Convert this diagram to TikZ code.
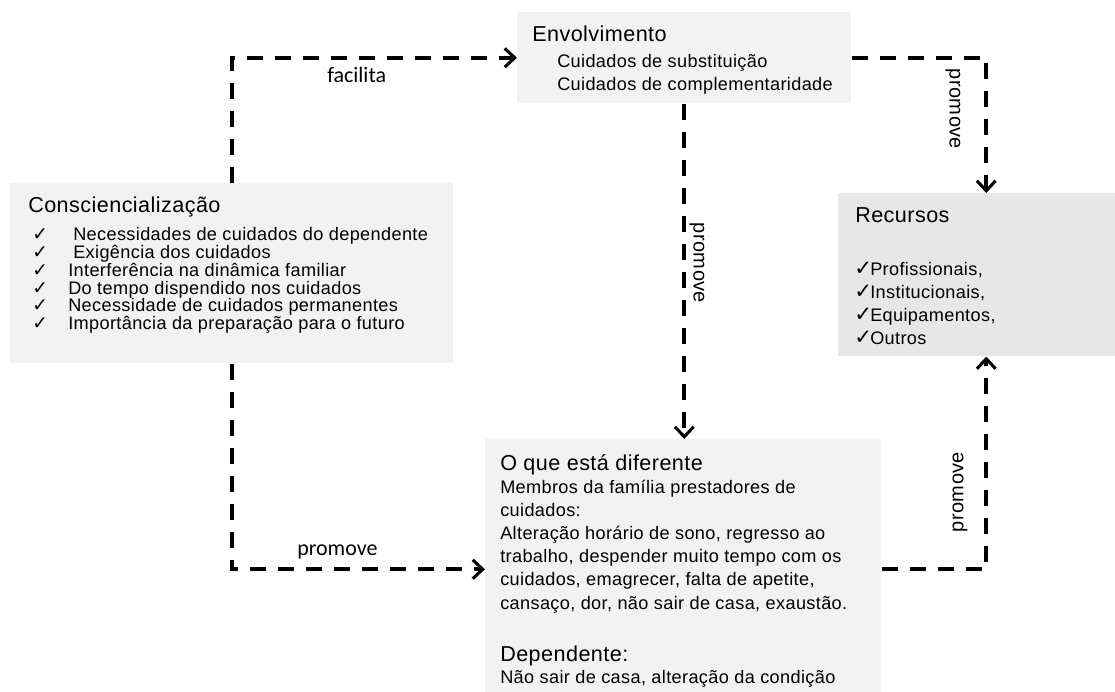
\documentclass[tikz,border=0pt]{standalone}
\usepackage{fontspec}
\setmainfont{Liberation Sans}[LetterSpace=2]
\newfontfamily\calib{Carlito}
\newfontfamily\dejav{DejaVu Sans}
\usetikzlibrary{arrows.meta}
\definecolor{boxa}{HTML}{F2F2F2}
\definecolor{boxb}{HTML}{E7E7E7}
\begin{document}
\begin{tikzpicture}[x=0.75pt,y=-0.75pt,
 box/.style={fill=#1, draw=none, inner sep=0, anchor=north west},
 ttl/.style={inner sep=0, anchor=base west, font=\fontsize{16.2}{19}\selectfont},
 bdy/.style={inner sep=0, anchor=base west, font=\fontsize{13.6}{15}\selectfont},
 chk/.style={inner sep=0, anchor=base west, font=\dejav\fontsize{14}{15}\selectfont},
 chkb/.style={inner sep=0, anchor=base west, font=\dejav\fontsize{16}{17}\selectfont},
 lbl/.style={inner sep=0, anchor=base west, font=\calib\fontsize{16.5}{20}\selectfont},
 rlbl/.style={inner sep=0, font=\fontsize{15}{17}\selectfont},
 link/.style={line width=3pt, dash pattern=on 12pt off 9pt,
   -{Straight Barb[length=7.5pt,width=14pt,line width=2.3pt]}}
]
\useasboundingbox (0,0) rectangle (1115,692);
% boxes
\node[box=boxa, minimum width=332.25pt, minimum height=135pt] (consc) at (10,183) {};
\node[box=boxa, minimum width=250.5pt, minimum height=68.25pt] (env) at (517,12) {};
\node[box=boxb, minimum width=222pt, minimum height=122.25pt] (rec) at (838,193) {};
\node[box=boxa, minimum width=297pt, minimum height=195pt] (oque) at (485,439) {};
% Consciencialização
\node[ttl] (ctitle) at (28,212) {Consciencialização};
\foreach \i/\yy/\xx/\t in {1/240/73/{Necessidades de cuidados do dependente},
  2/258/73/{Exigência dos cuidados},
  3/276/68/{Interferência na dinâmica familiar},
  4/294/68/{Do tempo dispendido nos cuidados},
  5/311.5/68/{Necessidade de cuidados permanentes},
  6/329/68/{Importância da preparação para o futuro}}{
  \node[chk] (ck\i) at (32,\yy) {✓};
  \node[bdy] (cl\i) at (\xx,\yy) {\t};
}
% Envolvimento
\node[ttl] (etitle) at (532,42) {Envolvimento};
\node[bdy] (e1) at (557,68) {Cuidados de substituição};
\node[bdy] (e2) at (557,91) {Cuidados de complementaridade};
% Recursos
\node[ttl] (rtitle) at (855,223) {Recursos};
\foreach \i/\yy/\t in {1/275/{Profissionais,},2/298/{Institucionais,},3/321/{Equipamentos,},4/344/{Outros}}{
  \node[chkb] (rk\i) at (854,\yy) {✓};
  \node[bdy] (rl\i) at (870,\yy) {\t};
}
% O que está diferente
\node[ttl] (otitle) at (500,470) {O que está diferente};
\foreach \i/\yy/\t in {1/493/{Membros da família prestadores de},
  2/516/{cuidados:},
  3/539/{Alteração horário de sono, regresso ao},
  4/562/{trabalho, despender muito tempo com os},
  5/585/{cuidados, emagrecer, falta de apetite,},
  6/609/{cansaço, dor, não sair de casa, exaustão.}}{
  \node[bdy] (ol\i) at (500,\yy) {\t};
}
\node[ttl] (dtitle) at (500,661) {Dependente:};
\node[bdy] (d1) at (500,683) {Não sair de casa, alteração da condição};
% connectors
\draw[link] (consc.north) |- (env.west);
\draw[link] (consc.south) |- (oque.west);
\draw[link] (env.south) -- (env.south |- oque.north);
\draw[link] (env.east) -| (rec.north);
\draw[link] (oque.east) -| (rec.south);
% labels
\node[lbl] (facilita) at (327,83) {facilita};
\node[lbl] (pbottom) at (297,555) {promove};
\node[rlbl, rotate=-90] (pmid) at (697,263) {promove};
\node[rlbl, rotate=-90] (pupr) at (953,109) {promove};
\node[rlbl, rotate=90] (plwr) at (960,492) {promove};
\end{tikzpicture}
\end{document}
